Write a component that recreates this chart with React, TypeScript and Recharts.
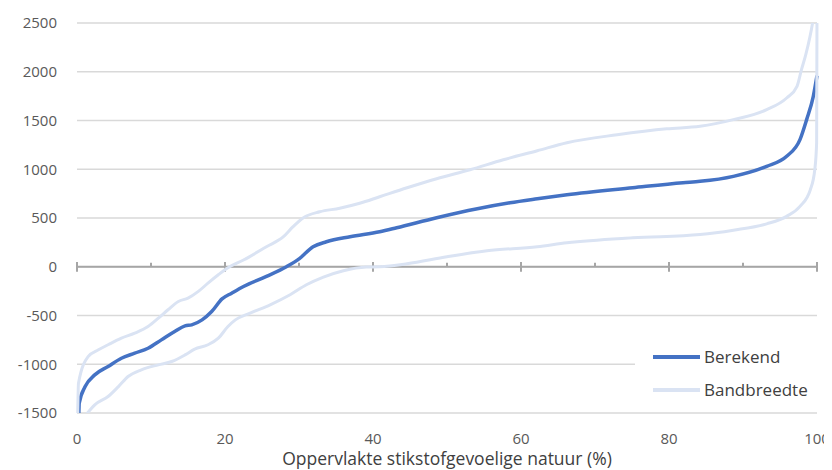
import { LineChart, Line, XAxis, YAxis, CartesianGrid, ReferenceLine, Legend } from 'recharts'

// Berekend (calculated) curve
const berekendX = [0.25, 0.3, 1.1, 2.4, 4.2, 6.0, 7.8, 9.6, 11.4, 13.2, 14.6, 15.5, 16.9, 18.2, 19.6, 20.9, 22.5, 25.6, 28.3, 30.1, 31.9, 33.7, 36.9, 40.9, 43.2, 48.6, 54.1, 58.5, 62.2, 66.2, 75.1, 81.9, 84.2, 88.7, 93.2, 95.9, 97.7, 98.6, 99.5, 100]
const berekendY = [-1500, -1400, -1229, -1109, -1023, -938, -887, -836, -750, -664, -606, -596, -545, -459, -330, -271, -202, -99, 0, 86, 205, 256, 308, 359, 400, 503, 595, 656, 697, 738, 810, 862, 876, 927, 1030, 1133, 1304, 1509, 1748, 1960]

// upper edge of the band
const upperX = [0.1, 0.2, 1.5, 2.9, 4.2, 6.0, 7.8, 9.6, 11.0, 12.3, 13.7, 15.0, 16.4, 17.7, 19.1, 20.4, 22.5, 25.6, 27.9, 29.2, 30.6, 32.8, 35.5, 38.2, 40.9, 44.6, 48.6, 53.1, 57.6, 62.2, 66.2, 73.0, 79.7, 84.2, 88.7, 93.2, 95.9, 97.3, 97.9, 98.5, 99.4, 99.7]
const upperY = [-1500, -1195, -922, -852, -800, -732, -681, -613, -527, -441, -356, -322, -253, -168, -82, -10, 69, 205, 308, 411, 503, 564, 600, 651, 718, 810, 903, 995, 1097, 1190, 1272, 1354, 1415, 1440, 1509, 1611, 1731, 1850, 2021, 2180, 2500, 2650]

// lower edge of the band
const lowerX = [1.1, 2.4, 4.2, 5.6, 6.9, 8.7, 11.0, 12.8, 14.6, 15.9, 17.7, 19.1, 20.4, 21.4, 23.4, 26.1, 28.8, 31.0, 33.3, 36.0, 39.1, 40.9, 44.6, 50.0, 55.4, 62.2, 66.2, 75.1, 84.2, 88.7, 93.2, 95.9, 97.7, 99.1, 99.7, 99.95, 100]
const lowerY = [-1530, -1416, -1331, -1229, -1126, -1057, -1006, -972, -904, -845, -800, -732, -613, -545, -475, -390, -287, -185, -106, -41, -3, 0, 31, 103, 164, 205, 246, 297, 330, 375, 440, 517, 619, 790, 995, 1270, 2600]

const xTicks = [0, 20, 40, 60, 80, 100]
const xMinorTicks = [10, 30, 50, 70, 90]
const yTicks = [-1500, -1000, -500, 0, 500, 1000, 1500, 2000, 2500]

const toPoints = (xs: number[], ys: number[]) => xs.map((x, i) => ({ x, y: ys[i] }))

const berekend = toPoints(berekendX, berekendY)
const upper = toPoints(upperX, upperY)
const lower = toPoints(lowerX, lowerY)

const DARK = '#4472C4'
const LIGHT = '#DAE3F3'
const FONT = '"Open Sans", sans-serif'

function BandLegend() {
  const rows = [
    { label: 'Berekend', color: DARK },
    { label: 'Bandbreedte', color: LIGHT },
  ]
  return (
    <div style={{ background: '#fff', padding: '10px 0 4px 18px', fontFamily: FONT, height: 80, boxSizing: 'border-box' }}>
      {rows.map((r) => (
        <div key={r.label} style={{ display: 'flex', alignItems: 'center', height: 33 }}>
          <div style={{ width: 47, height: 4, background: r.color, marginRight: 4 }} />
          <span style={{ fontSize: 17, color: '#404040' }}>{r.label}</span>
        </div>
      ))}
    </div>
  )
}

export default function App() {
  return (
    <div style={{ margin: '-8px 0 0 -8px', width: 832, height: 470 }}>
      <LineChart width={832} height={470} margin={{ top: 23, right: 15, left: 0, bottom: 0 }}>
        <CartesianGrid horizontal vertical={false} stroke="#D9D9D9" strokeWidth={1.5} />
        <XAxis
          type="number"
          dataKey="x"
          domain={[0, 100]}
          ticks={xTicks}
          axisLine={false}
          tickLine={false}
          tickMargin={14}
          height={57}
          tick={{ fill: '#595959', fontSize: 15, fontFamily: FONT }}
          label={{ value: 'Oppervlakte stikstofgevoelige natuur (%)', position: 'insideBottom', offset: 5, fill: '#404040', fontSize: 17.5, fontFamily: FONT }}
        />
        <YAxis
          type="number"
          domain={[-1500, 2500]}
          ticks={yTicks}
          allowDataOverflow
          axisLine={false}
          tickLine={false}
          tickSize={10}
          tickMargin={10}
          width={77}
          tick={{ fill: '#595959', fontSize: 15, fontFamily: FONT }}
        />
        <ReferenceLine y={0} stroke="#A6A6A6" strokeWidth={2} />
        {xTicks.map((t) => (
          <ReferenceLine key={`maj-${t}`} segment={[{ x: t, y: -50 }, { x: t, y: 50 }]} stroke="#A6A6A6" strokeWidth={2} />
        ))}
        {xMinorTicks.map((t) => (
          <ReferenceLine key={`min-${t}`} segment={[{ x: t, y: 0 }, { x: t, y: 40 }]} stroke="#A6A6A6" strokeWidth={2} />
        ))}
        <Line data={berekend} dataKey="y" name="Berekend" type="monotone" stroke={DARK} strokeWidth={3.5} dot={false} isAnimationActive={false} />
        <Line data={upper} dataKey="y" name="Bandbreedte" type="monotone" stroke={LIGHT} strokeWidth={3} dot={false} isAnimationActive={false} />
        <Line data={lower} dataKey="y" name="Bandbreedte onder" type="monotone" stroke={LIGHT} strokeWidth={3} dot={false} isAnimationActive={false} />
        <Legend
          layout="vertical"
          align="center"
          verticalAlign="middle"
          content={<BandLegend />}
          wrapperStyle={{ position: 'absolute', left: 635, top: 330, width: 183, height: 80 }}
        />
      </LineChart>
    </div>
  )
}
